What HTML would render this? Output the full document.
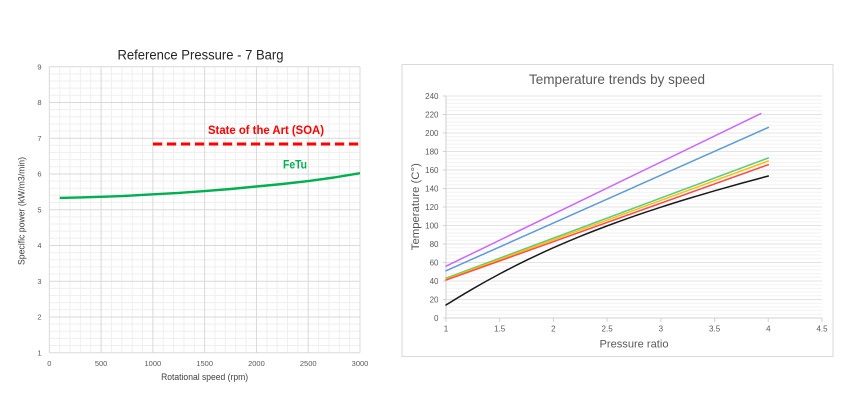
<!DOCTYPE html>
<html>
<head>
<meta charset="utf-8">
<style>
html,body{margin:0;padding:0;background:#fff;}
svg{display:block;}
text{font-family:"Liberation Sans",sans-serif;}
</style>
</head>
<body>
<svg width="845" height="400" viewBox="0 0 845 400" xmlns="http://www.w3.org/2000/svg">
<rect x="0" y="0" width="845" height="400" fill="#fff"/>

<!-- LEFT CHART -->
<g fill="none" stroke="#efefef" stroke-width="1">
<path d="M59.66 66.7V352.7M70.01 66.7V352.7M80.37 66.7V352.7M90.73 66.7V352.7M111.44 66.7V352.7M121.8 66.7V352.7M132.16 66.7V352.7M142.51 66.7V352.7M163.23 66.7V352.7M173.58 66.7V352.7M183.94 66.7V352.7M194.3 66.7V352.7M215.01 66.7V352.7M225.37 66.7V352.7M235.73 66.7V352.7M246.08 66.7V352.7M266.8 66.7V352.7M277.15 66.7V352.7M287.51 66.7V352.7M297.87 66.7V352.7M318.58 66.7V352.7M328.94 66.7V352.7M339.3 66.7V352.7M349.65 66.7V352.7"/>
<path d="M49.3 73.85H360M49.3 81H360M49.3 88.15H360M49.3 95.3H360M49.3 109.6H360M49.3 116.75H360M49.3 123.9H360M49.3 131.05H360M49.3 145.35H360M49.3 152.5H360M49.3 159.65H360M49.3 166.8H360M49.3 181.1H360M49.3 188.25H360M49.3 195.4H360M49.3 202.55H360M49.3 216.85H360M49.3 224H360M49.3 231.15H360M49.3 238.3H360M49.3 252.6H360M49.3 259.75H360M49.3 266.9H360M49.3 274.05H360M49.3 288.35H360M49.3 295.5H360M49.3 302.65H360M49.3 309.8H360M49.3 324.1H360M49.3 331.25H360M49.3 338.4H360M49.3 345.55H360"/>
</g>
<g fill="none" stroke="#d9d9d9" stroke-width="1">
<path d="M49.3 66.7V352.7M101.09 66.7V352.7M152.87 66.7V352.7M204.66 66.7V352.7M256.44 66.7V352.7M308.23 66.7V352.7M360 66.7V352.7"/>
<path d="M49.3 66.7H360M49.3 102.45H360M49.3 138.2H360M49.3 173.95H360M49.3 209.7H360M49.3 245.45H360M49.3 281.2H360M49.3 316.95H360M49.3 352.7H360"/>
</g>

<!-- SOA dashed -->
<line x1="152.9" y1="144" x2="360" y2="144" stroke="#ff0000" stroke-width="3" stroke-dasharray="9.3 4.7"/>
<!-- FeTu line -->
<polyline fill="none" stroke="#00b050" stroke-width="2.4" stroke-linejoin="round" points="59.7,197.9 80.4,197.4 101.1,196.8 121.8,196.1 152.9,194.3 178.8,192.9 204.7,191.1 230.5,189.0 256.4,186.5 282.3,184.0 308.2,181.1 334.1,177.5 360,173.2"/>

<text x="200.5" y="59.5" font-size="13.5" fill="#262626" text-anchor="middle" textLength="166" lengthAdjust="spacingAndGlyphs">Reference Pressure - 7 Barg</text>
<text x="208" y="134" font-size="11.5" font-weight="bold" fill="#ff0000" textLength="116" lengthAdjust="spacingAndGlyphs">State of the Art (SOA)</text>
<text x="283" y="168.7" font-size="11.5" font-weight="bold" fill="#00b050" textLength="24" lengthAdjust="spacingAndGlyphs">FeTu</text>

<g font-size="7.5" fill="#595959" text-anchor="end">
<text x="41.5" y="69.4">9</text>
<text x="41.5" y="105.15">8</text>
<text x="41.5" y="140.9">7</text>
<text x="41.5" y="176.65">6</text>
<text x="41.5" y="212.4">5</text>
<text x="41.5" y="248.15">4</text>
<text x="41.5" y="283.9">3</text>
<text x="41.5" y="319.65">2</text>
<text x="41.5" y="355.4">1</text>
</g>
<g font-size="7.5" fill="#595959" text-anchor="middle">
<text x="49.3" y="366">0</text>
<text x="101.09" y="366">500</text>
<text x="152.87" y="366">1000</text>
<text x="204.66" y="366">1500</text>
<text x="256.44" y="366">2000</text>
<text x="308.23" y="366">2500</text>
<text x="360" y="366">3000</text>
</g>
<text x="204.6" y="380" font-size="9" fill="#404040" text-anchor="middle" textLength="87" lengthAdjust="spacingAndGlyphs">Rotational speed (rpm)</text>
<text transform="translate(24.5,211) rotate(-90)" x="0" y="0" font-size="9" fill="#404040" text-anchor="middle" textLength="108" lengthAdjust="spacingAndGlyphs">Specific power (kW/m3/min)</text>

<!-- RIGHT CHART -->
<rect x="402" y="64.5" width="431" height="292" fill="#fff" stroke="#d9d9d9" stroke-width="1"/>
<g fill="none" stroke="#f2f2f2" stroke-width="1">
<path d="M446 314.3H822M446 310.6H822M446 306.9H822M446 303.2H822M446 295.8H822M446 292.1H822M446 288.4H822M446 284.7H822M446 277.3H822M446 273.6H822M446 269.9H822M446 266.2H822M446 258.8H822M446 255.1H822M446 251.4H822M446 247.7H822M446 240.3H822M446 236.6H822M446 232.9H822M446 229.2H822M446 221.8H822M446 218.1H822M446 214.4H822M446 210.7H822M446 203.3H822M446 199.6H822M446 195.9H822M446 192.2H822M446 184.8H822M446 181.1H822M446 177.4H822M446 173.7H822M446 166.3H822M446 162.6H822M446 158.9H822M446 155.2H822M446 147.8H822M446 144.1H822M446 140.4H822M446 136.7H822M446 129.3H822M446 125.6H822M446 121.9H822M446 118.2H822M446 110.8H822M446 107.1H822M446 103.4H822M446 99.7H822"/>
</g>
<g fill="none" stroke="#e3e3e3" stroke-width="1">
<path d="M446 299.5H822M446 281H822M446 262.5H822M446 244H822M446 225.5H822M446 207H822M446 188.5H822M446 170H822M446 151.5H822M446 133H822M446 114.5H822M446 96H822"/>
</g>
<g fill="none" stroke="#d0d0d0" stroke-width="1">
<path d="M446 96V318M443 318H822"/>
<path d="M443 299.5H446M443 281H446M443 262.5H446M443 244H446M443 225.5H446M443 207H446M443 188.5H446M443 170H446M443 151.5H446M443 133H446M443 114.5H446M443 96H446"/>
<path d="M446 318V322M499.7 318V322M553.4 318V322M607.1 318V322M660.9 318V322M714.6 318V322M768.3 318V322M822 318V322"/>
</g>

<!-- series -->
<g fill="none" stroke-width="1.5" stroke-linecap="round" stroke-linejoin="round">
<line x1="446" y1="266.2" x2="760.8" y2="113.6" stroke="#cc66ff"/>
<line x1="446" y1="270.8" x2="768.3" y2="127.45" stroke="#5b9bd5"/>
<line x1="446" y1="278.2" x2="768.3" y2="158.0" stroke="#5ccb7e"/>
<line x1="446" y1="279.15" x2="768.3" y2="161.0" stroke="#ffc000"/>
<line x1="446" y1="280.1" x2="768.3" y2="164.7" stroke="#ff4b4b"/>
<path stroke="#1a1a1a" d="M446,305.05 C454.95,299.38 463.91,293.99 472.86,288.79 C481.81,283.60 490.77,278.64 499.72,273.88 C508.67,269.12 517.63,264.59 526.58,260.23 C535.53,255.87 544.49,251.73 553.44,247.74 C562.39,243.76 571.35,239.97 580.3,236.32 C589.25,232.68 598.21,229.23 607.16,225.87 C616.11,222.52 625.07,219.30 634.02,216.19 C642.97,213.08 651.93,210.09 660.88,207.19 C669.83,204.29 678.79,201.50 687.74,198.77 C696.69,196.04 705.65,193.41 714.6,190.83 C723.55,188.25 732.51,185.75 741.46,183.28 C750.41,180.81 759.35,178.42 768.3,176.02"/>
</g>

<text x="617" y="84" font-size="14" fill="#595959" text-anchor="middle" textLength="176" lengthAdjust="spacingAndGlyphs">Temperature trends by speed</text>
<g font-size="8" fill="#595959" text-anchor="end">
<text x="438.5" y="320.8">0</text>
<text x="438.5" y="302.3">20</text>
<text x="438.5" y="283.8">40</text>
<text x="438.5" y="265.3">60</text>
<text x="438.5" y="246.8">80</text>
<text x="438.5" y="228.3">100</text>
<text x="438.5" y="209.8">120</text>
<text x="438.5" y="191.3">140</text>
<text x="438.5" y="172.8">160</text>
<text x="438.5" y="154.3">180</text>
<text x="438.5" y="135.8">200</text>
<text x="438.5" y="117.3">220</text>
<text x="438.5" y="98.8">240</text>
</g>
<g font-size="8" fill="#595959" text-anchor="middle">
<text x="446" y="331.7">1</text>
<text x="499.7" y="331.7">1.5</text>
<text x="553.4" y="331.7">2</text>
<text x="607.1" y="331.7">2.5</text>
<text x="660.9" y="331.7">3</text>
<text x="714.6" y="331.7">3.5</text>
<text x="768.3" y="331.7">4</text>
<text x="822" y="331.7">4.5</text>
</g>
<text x="634" y="347.7" font-size="11" fill="#595959" text-anchor="middle" textLength="69" lengthAdjust="spacingAndGlyphs">Pressure ratio</text>
<text transform="translate(419,206.7) rotate(-90)" x="0" y="0" font-size="11" fill="#595959" text-anchor="middle" textLength="87" lengthAdjust="spacingAndGlyphs">Temperature (C°)</text>
</svg>
</body>
</html>
